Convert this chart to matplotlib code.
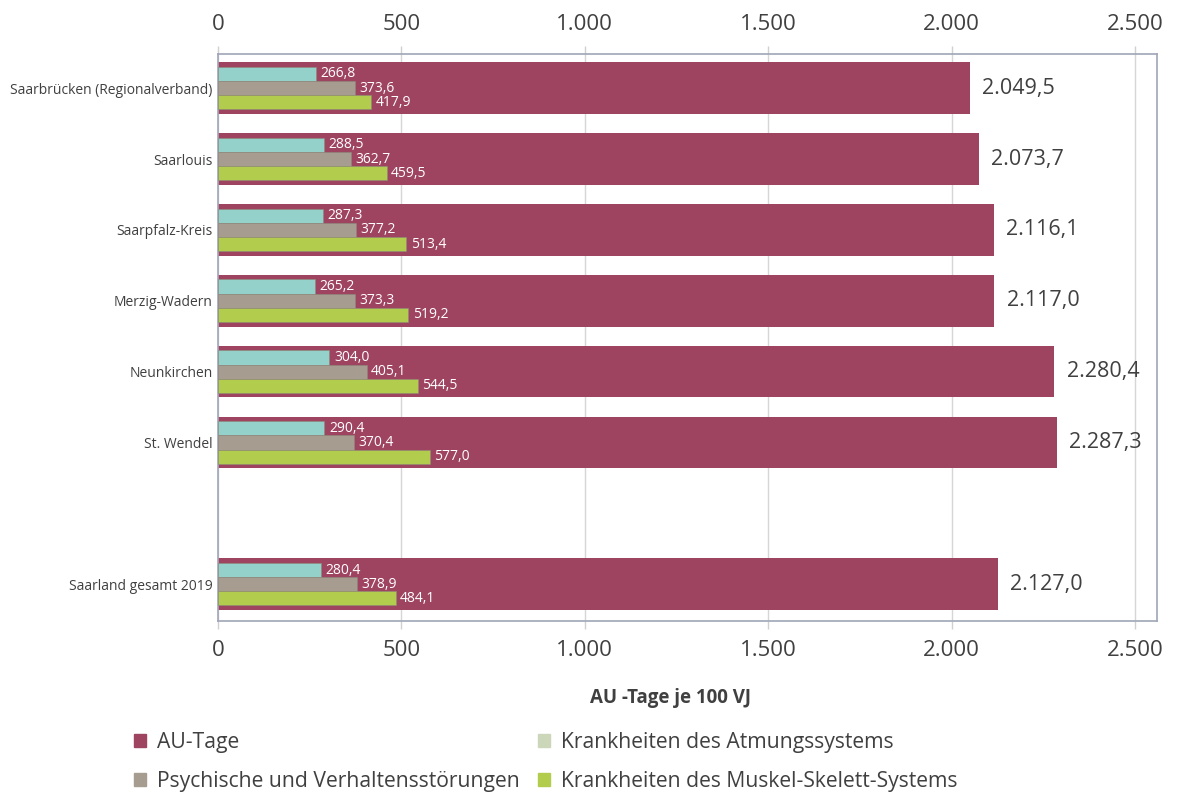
import matplotlib
matplotlib.use("Agg")
import matplotlib.pyplot as plt
from matplotlib.patches import Patch
from matplotlib.ticker import FuncFormatter
import numpy as np

plt.rcParams["font.family"] = ["Open Sans", "DejaVu Sans"]

# data
regions = [
    "Saarbrücken (Regionalverband)",
    "Saarlouis",
    "Saarpfalz-Kreis",
    "Merzig-Wadern",
    "Neunkirchen",
    "St. Wendel",
    "",
    "Saarland gesamt 2019",
]
au_tage = [2049.5, 2073.7, 2116.1, 2117.0, 2280.4, 2287.3, None, 2127.0]
atmung = [266.8, 288.5, 287.3, 265.2, 304.0, 290.4, None, 280.4]
psyche = [373.6, 362.7, 377.2, 373.3, 405.1, 370.4, None, 378.9]
muskel = [417.9, 459.5, 513.4, 519.2, 544.5, 577.0, None, 484.1]

c_au = "#9e4461"
c_atm = "#94d1ca"
c_psy = "#a69d90"
c_mus = "#b2cc4e"
c_atm_leg = "#ccd6b8"
c_text = "#404040"


def de(v, dec=1):
    s = f"{v:,.{dec}f}"
    return s.replace(",", "X").replace(".", ",").replace("X", ".")


fig = plt.figure(figsize=(11.77, 7.96), dpi=100)
ax = fig.add_axes([0.1852, 0.2198, 0.7978, 0.7122])

y = np.arange(len(regions))
sub_h = 0.2
for i, (a, r, p, m) in enumerate(zip(au_tage, atmung, psyche, muskel)):
    if a is None:
        continue
    ax.barh(i, a, height=0.73, color=c_au, zorder=2)
    ax.text(a + 33, i, de(a), va="center", ha="left", fontsize=15.5, color=c_text)
    for val, off, col in [(r, -sub_h, c_atm), (p, 0, c_psy), (m, sub_h, c_mus)]:
        ax.barh(i + off, val, height=sub_h, color=col, edgecolor="#8a8a7a",
                linewidth=0.4, zorder=3)
        ax.text(val + 12, i + off, de(val), va="center", ha="left",
                fontsize=10, color="white", zorder=4)

ax.set_ylim(len(regions) - 0.48, -0.48)
ax.set_xlim(0, 2560)
ax.set_yticks(y)
ax.set_yticklabels(regions, fontsize=10, color=c_text)
ax.tick_params(axis="y", length=0, pad=4)

ax.set_xticks(np.arange(0, 2501, 500))
ax.xaxis.set_major_formatter(FuncFormatter(lambda v, _: de(v, 0)))
ax.tick_params(axis="x", which="both", top=True, labeltop=True, bottom=True,
               labelbottom=True, labelsize=16, labelcolor=c_text,
               color="#d0d0d0", length=6, width=1, pad=8)
ax.grid(axis="x", color="#d6d6d6", linewidth=1, zorder=0)
ax.set_axisbelow(True)

for s in ax.spines.values():
    s.set_color("#a0a5b8")
    s.set_linewidth(1.2)

ax.set_xlabel("AU -Tage je 100 VJ", fontsize=13.5, fontweight="bold",
              color=c_text)
ax.xaxis.set_label_coords(0.4824, -0.118)

handles = [
    Patch(color=c_au, label="AU-Tage"),
    Patch(color=c_psy, label="Psychische und Verhaltensstörungen"),
    Patch(color=c_atm_leg, label="Krankheiten des Atmungssystems"),
    Patch(color=c_mus, label="Krankheiten des Muskel-Skelett-Systems"),
]
fig.legend(handles=handles, ncol=2, loc="lower left",
           bbox_to_anchor=(0.0975, -0.019), frameon=False, fontsize=15.2,
           handlelength=0.6, handleheight=0.6, handletextpad=0.5,
           columnspacing=0.85, labelspacing=0.86, labelcolor=c_text)

fig.savefig("out.png", dpi=100)
